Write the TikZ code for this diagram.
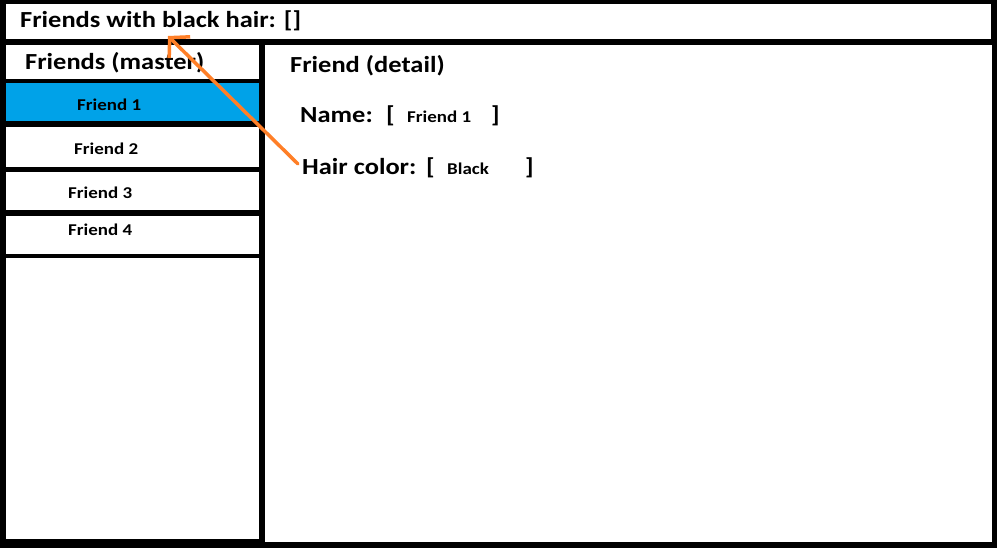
\documentclass[tikz,border=0pt]{standalone}
\usepackage{fontspec}
\setmainfont{Carlito}[FakeStretch=1.15]
\usetikzlibrary{arrows.meta}
\definecolor{uiBlue}{HTML}{00A2E8}
\definecolor{uiOrange}{HTML}{FF7F27}
\definecolor{uiInk}{HTML}{000000}
\tikzset{
  bigText/.style={anchor=base west, inner sep=0pt, text=uiInk,
    font=\fontsize{23}{27}\selectfont\bfseries},
  rowText/.style={anchor=base west, inner sep=0pt, text=uiInk,
    font=\fontsize{16.5}{19}\selectfont\bfseries},
  pane/.style={fill=white},
  pointer/.style={
    -{Straight Barb[length=14pt, width=30pt, line width=3.5pt]},
    line width=3.5pt, color=uiOrange, line cap=round},
}
\begin{document}
\begin{tikzpicture}[x=1pt,y=-1pt]
  \useasboundingbox (0,0) rectangle (997,548);
  \fill[black] (0,0) rectangle (997,548);

  % panes
  \fill[pane] (6,4) rectangle (991,39);
  \fill[pane] (6,45) rectangle (259,79);
  \fill[uiBlue] (6,83) rectangle (259,121);
  \fill[pane] (6,127) rectangle (259,167);
  \fill[pane] (6,172) rectangle (259,210);
  \fill[pane] (6,216) rectangle (259,254);
  \fill[pane] (6,258) rectangle (259,539);
  \fill[pane] (265,45) rectangle (992,542);

  \node[bigText] (filterTitle) at (20,28) {Friends with black hair: []};
  \node[bigText] (masterTitle) at (25,70) {Friends (master)};

  \node[rowText] (rowOne) at (77,111) {Friend 1};
  \node[rowText] (rowTwo) at (74,155) {Friend 2};
  \node[rowText] (rowThree) at (68,199) {Friend 3};
  \node[rowText] (rowFour) at (68,236) {Friend 4};

  \node[bigText] (detailTitle) at (290,73) {Friend (detail)};

  \node[bigText] (nameLbl) at (300,123) {Name:};
  \node[bigText] (nameOpen) at (386,123) {[};
  \node[rowText] (nameVal) at (407,123) {Friend 1};
  \node[bigText] (nameClose) at (491,123) {]};

  \node[bigText] (hairLbl) at (302,175) {Hair color:};
  \node[bigText] (hairOpen) at (426,175) {[};
  \node[rowText] (hairVal) at (447,175) {Black};
  \node[bigText] (hairClose) at (525,175) {]};

  \coordinate (pointerTail) at (298,164);
  \coordinate (pointerTip) at (168,36);
  \draw[pointer] (pointerTail) -- (pointerTip);
\end{tikzpicture}
\end{document}
